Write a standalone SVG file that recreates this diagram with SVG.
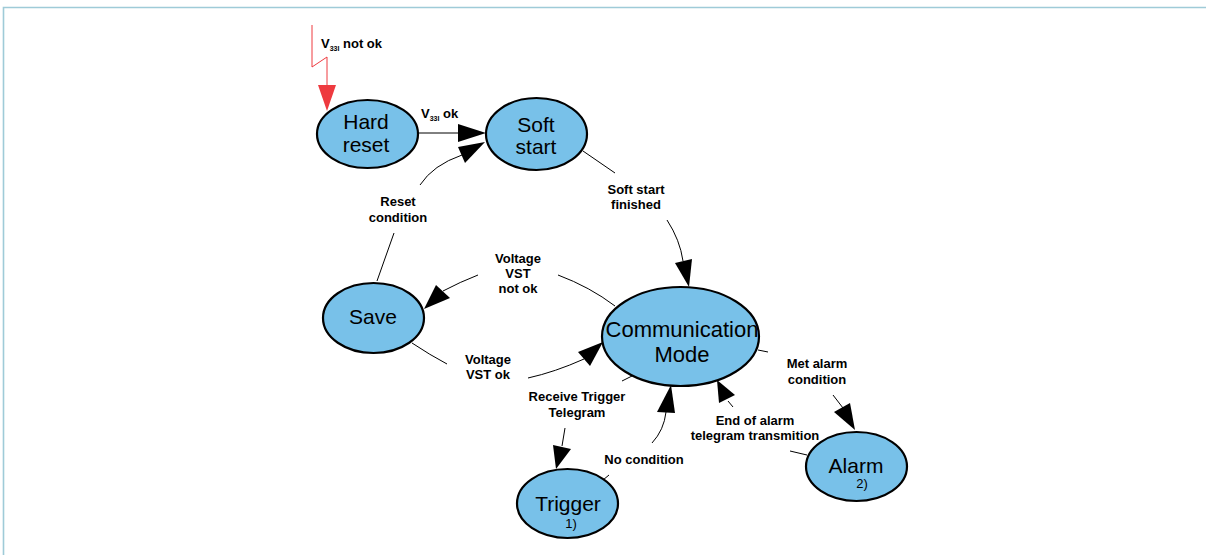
<svg xmlns="http://www.w3.org/2000/svg" width="1206" height="555" viewBox="0 0 1206 555">
<style>
.node ellipse{fill:#78c1e9;stroke:#000;stroke-width:2.2}
.nt{font-family:"Liberation Sans",Arial,sans-serif;font-size:21px;fill:#000;text-anchor:middle}
.sm{font-family:"Liberation Sans",Arial,sans-serif;font-size:13px;fill:#000;text-anchor:middle}
.lb{font-family:"Liberation Sans",Arial,sans-serif;font-size:13px;font-weight:bold;fill:#000;text-anchor:middle}
.sub{font-size:7px}
.c path{fill:none;stroke:#000;stroke-width:1}
.c polygon{fill:#000;stroke:none}
.c path.red{stroke:#ee3a3f}
.c polygon.red{fill:#ee3a3f}
</style>
<rect width="1206" height="555" fill="#fff"/>
<path d="M3.5,555 V7.5 H1206" fill="none" stroke="#9fcbd8" stroke-width="1.6"/>

<g id="connectors" class="c">
  <path class="red" d="M312,25 L312,67 L327,57 L327,85"/>
  <polygon class="red" points="318,85 336,85 327,111"/>
  <path d="M418,133 L458,133"/>
  <polygon points="458,124 458,142 486,133"/>
  <path d="M377,281 L394,233"/>
  <path d="M420,185 Q433,165 462,155"/>
  <polygon points="458,147 465,163 485,142"/>
  <path d="M583,151 L615,173"/>
  <path d="M667,220 Q680,240 683,261"/>
  <polygon points="675,263 692,259 689,287"/>
  <path d="M558,275 Q590,287 615,306"/>
  <path d="M478,275 Q460,282 443,291"/>
  <polygon points="436,285 450,298 424,309"/>
  <path d="M412,343 Q430,355 447,364"/>
  <path d="M528,378 Q555,372 584,359"/>
  <polygon points="578,352 590,366 603,342"/>
  <path d="M622,381 L632,376"/>
  <path d="M565,428 L562,446"/>
  <polygon points="553,445 571,449 556,469"/>
  <path d="M603,480 L609,475"/>
  <path d="M652,443 Q664,430 666,412"/>
  <polygon points="657,412 675,413 671,385"/>
  <path d="M807,455 L790,451"/>
  <path d="M733,407 L728,401"/>
  <polygon points="719,403 735,395 717,380"/>
  <path d="M758,350 L768,352"/>
  <path d="M833,395 L843,408"/>
  <polygon points="834,412 850,403 855,430"/>
</g>

<g id="labels">
  <text class="lb" x="321" y="48" style="text-anchor:start">V<tspan class="sub" dy="3">33I</tspan><tspan dy="-3"> not ok</tspan></text>
  <text class="lb" x="421" y="118" style="text-anchor:start">V<tspan class="sub" dy="3">33I</tspan><tspan dy="-3"> ok</tspan></text>
  <text class="lb" x="398" y="206">Reset</text>
  <text class="lb" x="398" y="222">condition</text>
  <text class="lb" x="636" y="194">Soft start</text>
  <text class="lb" x="636" y="209">finished</text>
  <text class="lb" x="518" y="263">Voltage</text>
  <text class="lb" x="518" y="278">VST</text>
  <text class="lb" x="518" y="293">not ok</text>
  <text class="lb" x="488" y="364">Voltage</text>
  <text class="lb" x="488" y="379">VST ok</text>
  <text class="lb" x="577" y="401">Receive Trigger</text>
  <text class="lb" x="577" y="417">Telegram</text>
  <text class="lb" x="644" y="464">No condition</text>
  <text class="lb" x="817" y="368">Met alarm</text>
  <text class="lb" x="817" y="384">condition</text>
  <text class="lb" x="755" y="425">End of alarm</text>
  <text class="lb" x="755" y="440">telegram transmition</text>
</g>

<g id="hard-reset" class="node">
  <ellipse cx="367.5" cy="134" rx="50.5" ry="34"/>
  <text class="nt" x="366" y="129">Hard</text>
  <text class="nt" x="366" y="152">reset</text>
</g>
<g id="soft-start" class="node">
  <ellipse cx="536.5" cy="134" rx="50.5" ry="36"/>
  <text class="nt" x="536" y="132">Soft</text>
  <text class="nt" x="536" y="154">start</text>
</g>
<g id="save" class="node">
  <ellipse cx="373.5" cy="318" rx="50.5" ry="35"/>
  <text class="nt" x="373" y="324">Save</text>
</g>
<g id="communication-mode" class="node">
  <ellipse cx="680.5" cy="336.5" rx="78.5" ry="49.5"/>
  <text class="nt" x="682" y="337" style="font-size:22px">Communication</text>
  <text class="nt" x="682" y="362" style="font-size:22px">Mode</text>
</g>
<g id="trigger" class="node">
  <ellipse cx="567.5" cy="503.5" rx="50.5" ry="34.5"/>
  <text class="nt" x="568" y="511">Trigger</text>
  <text class="sm" x="571" y="528">1)</text>
</g>
<g id="alarm" class="node">
  <ellipse cx="856.5" cy="466.5" rx="50.5" ry="34.5"/>
  <text class="nt" x="856" y="473">Alarm</text>
  <text class="sm" x="862" y="488">2)</text>
</g>
</svg>
